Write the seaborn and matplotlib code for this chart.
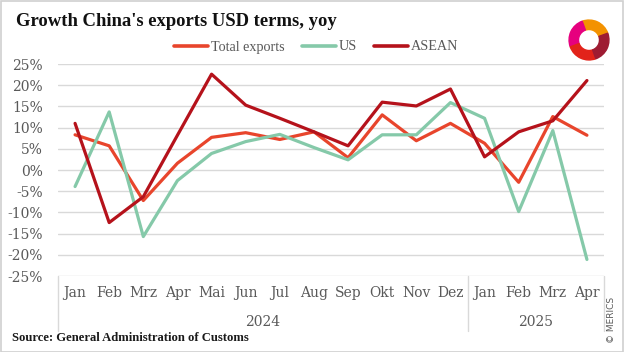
from __future__ import annotations

import matplotlib
matplotlib.use("Agg")
import matplotlib.pyplot as plt
import pandas as pd
import seaborn as sns
from matplotlib.patches import Rectangle, Wedge
from matplotlib.lines import Line2D


MONTHS = ["Jan", "Feb", "Mrz", "Apr", "Mai", "Jun", "Jul", "Aug",
          "Sep", "Okt", "Nov", "Dez", "Jan", "Feb", "Mrz", "Apr"]
YEARS = ["2024"] * 12 + ["2025"] * 4

TOTAL = [8.3, 5.7, -7.2, 1.6, 7.7, 8.8, 7.2, 9.0, 2.9, 13.0, 6.9, 11.0, 6.3, -2.9, 12.6, 8.2]
US = [-3.9, 13.7, -15.7, -2.5, 3.9, 6.7, 8.4, 5.3, 2.4, 8.3, 8.3, 15.9, 12.2, -9.8, 9.3, -21.1]
ASEAN = [11.0, -12.4, -6.3, 8.2, 22.6, 15.3, 12.2, 9.0, 5.7, 16.0, 15.1, 19.1, 3.1, 9.0, 11.6, 21.1]

SERIES = ["Total exports", "US", "ASEAN"]
COLORS = {"Total exports": "#E8452C", "US": "#85C9A9", "ASEAN": "#B5121B"}
Y_TICKS = list(range(-25, 30, 5))

GREY_TEXT = "#595959"
GRID = "#D9D9D9"
SERIF = ["DejaVu Serif"]
NARROW_SERIF = ["Liberation Serif", "DejaVu Serif"]


def build_frame() -> pd.DataFrame:
    rows = []
    for name, values in zip(SERIES, [TOTAL, US, ASEAN]):
        for i, v in enumerate(values):
            rows.append({"idx": i, "value": v, "series": name})
    return pd.DataFrame(rows)


def build_figure(df: pd.DataFrame) -> plt.Figure:
    sns.set_theme(style="white")
    plt.rcParams["font.family"] = SERIF

    fig = plt.figure(figsize=(6.24, 3.52), dpi=100)
    W, H = 624, 352
    ax = fig.add_axes([58 / W, 1 - 276 / H, (604 - 58) / W, (276 - 64) / H])

    sns.lineplot(data=df, x="idx", y="value", hue="series", hue_order=SERIES,
                 palette=COLORS, linewidth=2.3, ax=ax, legend=False)

    ax.set_xlim(-0.5, len(MONTHS) - 0.5)
    ax.set_ylim(-25, 25)
    ax.set_yticks(Y_TICKS)
    ax.set_yticklabels([f"{t}%" for t in Y_TICKS], color=GREY_TEXT, fontsize=10)
    ax.set_xticks([])
    ax.set_xlabel("")
    ax.set_ylabel("")
    ax.tick_params(axis="y", length=0, pad=11)
    for t in Y_TICKS:
        ax.axhline(t, color=GRID, linewidth=1.0, zorder=0)
    for side in ["left", "right", "top", "bottom"]:
        ax.spines[side].set_visible(False)

    # multi-level category axis below the plot
    trans = ax.get_xaxis_transform()
    span = 276 - 64
    for i, m in enumerate(MONTHS):
        ax.text(i, -(293 - 276) / span, m, transform=trans, ha="center",
                va="center", fontsize=10, color=GREY_TEXT)
    year_groups = {}
    for i, y in enumerate(YEARS):
        year_groups.setdefault(y, []).append(i)
    bounds = [-0.5]
    for y, idxs in year_groups.items():
        mid = (idxs[0] + idxs[-1]) / 2
        ax.text(mid, -(322 - 276) / span, y, transform=trans, ha="center",
                va="center", fontsize=10, color=GREY_TEXT)
        bounds.append(idxs[-1] + 0.5)
    for b in bounds:
        ax.add_line(Line2D([b, b], [0, -(331 - 276) / span], transform=trans,
                           color=GRID, linewidth=1.0, clip_on=False))

    # legend
    handles = [Line2D([0], [0], color=COLORS[s], linewidth=2.6) for s in SERIES]
    fig.legend(handles, SERIES, loc="center", bbox_to_anchor=(316 / W, 1 - 47 / H),
               ncol=3, frameon=False, handlelength=2.4,
               handletextpad=0.2, columnspacing=1.2, labelcolor=GREY_TEXT,
               prop={"family": NARROW_SERIF, "size": 10.2})

    fig.text(16 / W, 1 - 22 / H, "Growth China's exports USD terms, yoy",
             fontsize=13.4, fontweight="bold", va="center", ha="left",
             color="#111111", family=NARROW_SERIF)
    fig.text(12 / W, 1 - 338 / H, "Source: General Administration of Customs",
             fontsize=9.1, fontweight="bold", va="center", ha="left",
             color="#1a1a1a", family=NARROW_SERIF)
    fig.text(612 / W, 1 - 320 / H, "© MERICS", fontsize=6.5, rotation=90,
             va="center", ha="center", color=GREY_TEXT, family="DejaVu Sans")

    # simple logo mark
    lax = fig.add_axes([568 / W, 1 - 62 / H, 42 / W, 44 / H])
    lax.set_xlim(-1, 1)
    lax.set_ylim(-1, 1)
    lax.set_aspect("equal")
    lax.axis("off")
    for th1, th2, col in [(20, 110, "#F39200"), (110, 200, "#E6007E"),
                          (200, 290, "#E2231A"), (290, 380, "#9E1B32")]:
        lax.add_patch(Wedge((0, 0), 0.95, th1, th2, width=0.45, color=col))

    fig.add_artist(Rectangle((0.5 / W, 0.5 / H), 1 - 1.5 / W, 1 - 1.5 / H,
                             transform=fig.transFigure, fill=False,
                             edgecolor="#D0D0D0", linewidth=1.2))
    return fig


def main() -> None:
    df = build_frame()
    fig = build_figure(df)
    fig.savefig("out.png", dpi=100, facecolor="white")


if __name__ == "__main__":
    main()
